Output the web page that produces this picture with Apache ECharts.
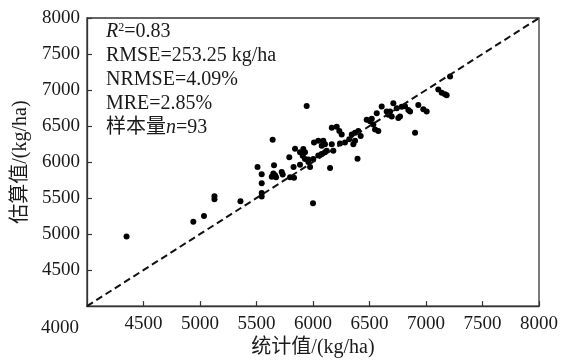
<!DOCTYPE html>
<html><head><meta charset="utf-8">
<script src="https://cdn.jsdelivr.net/npm/echarts@6/dist/echarts.min.js"></script>
<style>html,body{margin:0;padding:0;background:#fff}#c{width:561px;height:363px}</style>
</head><body><div id="c"></div>
<script>
// 统计值 (x) and 估算值 (y), kg/ha
const statValues = [4350,4941,5035,5128,5128,5358,5509,5546,5546,5546,5546,5643,5655,5649,5664,5635,5673,5723,5732,5790,5797,5832,5828,5841,5885,5914,5909,5929,5885,5959,5974,5944,6000,6009,6047,6091,6106,6077,6166,6180,6239,6283,6003,6047,6077,6106,6121,6151,6394,6166,6210,6233,6254,6343,6372,6401,6422,6321,6372,6357,6475,6505,6534,6549,6578,6520,6564,6608,6652,6667,6682,6697,6711,6741,6755,6785,6814,6844,6859,6770,6932,6976,7006,6903,7109,7139,7168,7183,7213,5914,5929,5959];
const estValues  = [4966,5170,5251,5524,5483,5455,5932,5829,5707,5571,5523,6308,5954,5840,5818,5795,5788,5863,5826,6067,5788,5782,5932,6183,6135,6126,6088,6044,5962,6036,5932,6778,5428,6271,6294,6294,6248,6226,6248,6158,6258,6271,6044,6090,6112,6135,6158,5918,6047,6475,6489,6430,6384,6384,6407,6430,6362,6316,6294,6248,6588,6566,6520,6452,6430,6602,6679,6770,6702,6656,6702,6634,6815,6747,6611,6768,6774,6724,6702,6634,6792,6734,6702,6407,7006,6961,6942,6928,7189,6180,6135,6000];
const axisTicks = [4000,4500,5000,5500,6000,6500,7000,7500,8000];
const refLine = [[4000,4000],[8000,8000]];
const statsLines = ['{i|R}{s|2}=0.83','RMSE=253.25 kg/ha','NRMSE=4.09%','MRE=2.85%','样本量{i|n}=93'];

const FONT = "'Liberation Serif','Noto Sans CJK SC',serif";
const TXT = '#1a1a1a';
const pts = statValues.map((v,i)=>[v,estValues[i]]);
const chart = echarts.init(document.getElementById('c'), null, {renderer:'canvas'});
const axisCommon = {
  min: axisTicks[0], max: axisTicks[axisTicks.length-1], interval: 500,
  axisLine:{show:true, lineStyle:{color:'#333', width:1.3}},
  axisTick:{show:true, inside:true, length:5, lineStyle:{color:'#333', width:1.2}},
  splitLine:{show:false},
  nameLocation:'middle',
  nameTextStyle:{fontFamily:FONT, fontSize:20, color:TXT}
};
const fmt = v => String(v);
chart.setOption({
  animation:false,
  backgroundColor:'#fff',
  grid:{left:87, right:22, top:18, bottom:51, show:true, borderColor:'#333', borderWidth:1.3},
  xAxis:Object.assign({}, axisCommon, {
    type:'value', name:'统计值/(kg/ha)', nameGap:30,
    axisLabel:{showMinLabel:false, margin:8, fontFamily:FONT, fontSize:19, color:TXT, formatter:fmt}
  }),
  yAxis:Object.assign({}, axisCommon, {
    type:'value', name:'估算值/(kg/ha)', nameGap:52,
    axisLabel:{showMinLabel:false, margin:7, fontFamily:FONT, fontSize:19, color:TXT, formatter:fmt}
  }),
  graphic:[
    {type:'text', left:41, top:319, style:{text:String(axisTicks[0]), font:"19px "+FONT, fill:TXT}},
    {type:'group', left:106, top:22, children: statsLines.map((t,k)=>({
      type:'text', x:0, y:k*24,
      style:{text:t, font:"20px "+FONT, fill:TXT,
        rich:{i:{fontStyle:'italic', fontFamily:FONT, fontSize:20, fill:TXT},
              s:{fontSize:12, fontFamily:FONT, fill:TXT, verticalAlign:'top', padding:[0,0,8,0]}}}
    }))}
  ],
  series:[
    {type:'line', data:refLine, symbol:'none', silent:true,
     lineStyle:{color:'#111', width:2, type:[7,4]}},
    {type:'scatter', data:pts, symbol:'circle', symbolSize:6,
     itemStyle:{color:'#000', opacity:1}}
  ]
});
</script></body></html>
